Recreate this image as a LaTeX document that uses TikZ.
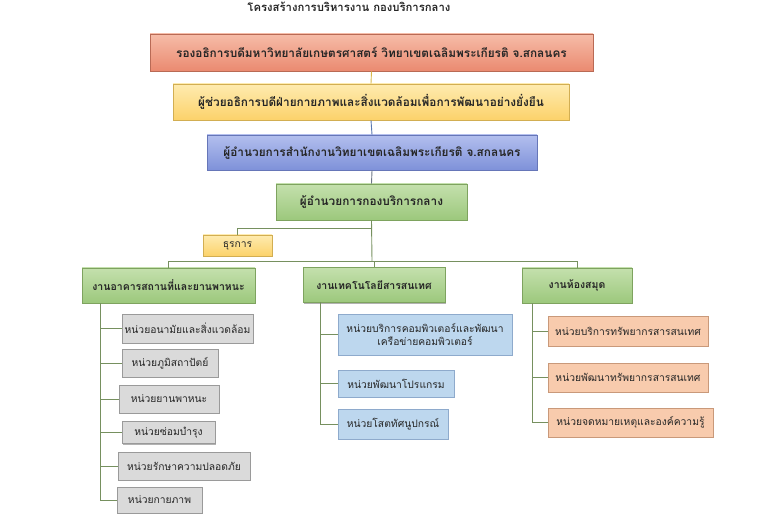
\documentclass[tikz,border=0pt]{standalone}
\usepackage{fontspec}
\setmainfont[Script=Thai]{Loma}
\usetikzlibrary{shadows}
\definecolor{txt}{HTML}{262626}
\definecolor{redA}{HTML}{F6BCA8}
\definecolor{redB}{HTML}{EA8A70}
\definecolor{redD}{HTML}{B96A55}
\definecolor{yelA}{HTML}{FEEBB0}
\definecolor{yelB}{HTML}{FCD26A}
\definecolor{yelD}{HTML}{D2AE52}
\definecolor{bluA}{HTML}{B3BFEE}
\definecolor{bluB}{HTML}{7E91D9}
\definecolor{bluD}{HTML}{6676B8}
\definecolor{grnA}{HTML}{C4E0AD}
\definecolor{grnB}{HTML}{9CC87C}
\definecolor{grnD}{HTML}{7EA35F}
\definecolor{gryF}{HTML}{DADADA}
\definecolor{gryD}{HTML}{9A9A9A}
\definecolor{lbF}{HTML}{BDD7EE}
\definecolor{lbD}{HTML}{8EAACC}
\definecolor{orF}{HTML}{F8CBAD}
\definecolor{orD}{HTML}{C9997A}
\definecolor{lnGold}{HTML}{D9B84A}
\definecolor{lnBlue}{HTML}{5A78B0}
\definecolor{lnGray}{HTML}{6D7785}
\definecolor{lnGreen}{HTML}{76905F}
\begin{document}
\begin{tikzpicture}[x=1pt,y=-1pt,
  base/.style={draw, rectangle, inner sep=1pt, align=center, text=txt,
    line width=0.8pt,
    drop shadow={shadow xshift=1.3pt, shadow yshift=-1.3pt, fill=black, opacity=.3}},
  topbox/.style={base, font=\fontsize{11.8}{14}\selectfont\bfseries},
  bigbox/.style={base, font=\fontsize{10.5}{13}\selectfont\bfseries},
  redbox/.style={topbox, top color=redA, bottom color=redB, draw=redD},
  yelbox/.style={topbox, top color=yelA, bottom color=yelB, draw=yelD},
  blubox/.style={topbox, top color=bluA, bottom color=bluB, draw=bluD},
  grntop/.style={topbox, top color=grnA, bottom color=grnB, draw=grnD},
  grnbox/.style={bigbox, top color=grnA, bottom color=grnB, draw=grnD},
  smallbox/.style={base, font=\fontsize{10.3}{13.5}\selectfont},
  dhubox/.style={smallbox, top color=yelA, bottom color=yelB, draw=yelD},
  grybox/.style={smallbox, fill=gryF, draw=gryD},
  lbbox/.style={smallbox, fill=lbF, draw=lbD},
  orbox/.style={smallbox, fill=orF, draw=orD},
  conn/.style={line width=0.9pt, draw=lnGreen}
]
\useasboundingbox (0,0) rectangle (772,516);

\node[font=\fontsize{11.3}{13}\selectfont\bfseries, text=txt] (title) at (349,7) {โครงสร้างการบริหารงาน กองบริการกลาง};

\node[redbox, minimum width=443pt, minimum height=37pt] (n1) at (371.5,52.5) {รองอธิการบดีมหาวิทยาลัยเกษตรศาสตร์ วิทยาเขตเฉลิมพระเกียรติ จ.สกลนคร};
\node[yelbox, minimum width=396pt, minimum height=36pt] (n2) at (371,102) {ผู้ช่วยอธิการบดีฝ่ายกายภาพและสิ่งแวดล้อมเพื่อการพัฒนาอย่างยั่งยืน};
\node[blubox, minimum width=330pt, minimum height=35pt] (n3) at (372,152.5) {ผู้อำนวยการสำนักงานวิทยาเขตเฉลิมพระเกียรติ จ.สกลนคร};
\node[grntop, minimum width=191pt, minimum height=36pt] (n4) at (371.5,202) {ผู้อำนวยการกองบริการกลาง};

\node[dhubox, minimum width=69pt, minimum height=21pt] (dhu) at (237.5,245.5) {ธุรการ};

\node[grnbox, minimum width=173pt, minimum height=35pt] (g1) at (168.5,285.5) {งานอาคารสถานที่และยานพาหนะ};
\node[grnbox, minimum width=142pt, minimum height=35pt] (g2) at (374,285) {งานเทคโนโลยีสารสนเทศ};
\node[grnbox, minimum width=110pt, minimum height=35pt] (g3) at (577,285.5) {งานห้องสมุด};

\node[grybox, minimum width=131pt, minimum height=29pt] (a1) at (187.5,328.5) {หน่วยอนามัยและสิ่งแวดล้อม};
\node[grybox, minimum width=96pt, minimum height=28pt] (a2) at (170,363) {หน่วยภูมิสถาปัตย์};
\node[grybox, minimum width=100pt, minimum height=28pt] (a3) at (169,399) {หน่วยยานพาหนะ};
\node[grybox, minimum width=93pt, minimum height=22pt] (a4) at (168.5,432.5) {หน่วยซ่อมบำรุง};
\node[grybox, minimum width=132pt, minimum height=28pt] (a5) at (184,466) {หน่วยรักษาความปลอดภัย};
\node[grybox, minimum width=85pt, minimum height=26pt] (a6) at (159.5,500) {หน่วยกายภาพ};

\node[lbbox, minimum width=174pt, minimum height=41pt] (b1) at (425,334.5) {หน่วยบริการคอมพิวเตอร์และพัฒนา\\เครือข่ายคอมพิวเตอร์};
\node[lbbox, minimum width=116pt, minimum height=27pt] (b2) at (396,383.5) {หน่วยพัฒนาโปรแกรม};
\node[lbbox, minimum width=110pt, minimum height=30pt] (b3) at (393,424) {หน่วยโสตทัศนูปกรณ์};

\node[orbox, minimum width=160pt, minimum height=30pt] (c1) at (628,331) {หน่วยบริการทรัพยากรสารสนเทศ};
\node[orbox, minimum width=160pt, minimum height=29pt] (c2) at (628,377.5) {หน่วยพัฒนาทรัพยากรสารสนเทศ};
\node[orbox, minimum width=165pt, minimum height=29pt] (c3) at (630.5,422.5) {หน่วยจดหมายเหตุและองค์ความรู้};

% junction coordinates
\coordinate (jd) at (372,228);
\coordinate (jm) at (372,261);
\coordinate (lt) at (100,303);
\coordinate (mt) at (320,302);
\coordinate (rt) at (532,303);

\draw[line width=0.9pt, draw=lnGold] (n1.south) -- (n2.north);
\draw[line width=0.9pt, draw=lnBlue] (n2.south) -- (n3.north);
\draw[line width=0.9pt, draw=lnGray] (n3.south) -- (n4.north);
\draw[conn] (n4.south) -- (jm);
\draw[conn] (jd) -| (dhu.north);
\draw[conn] (jm) -| (g1.north);
\draw[conn] (jm) -| (g2.north);
\draw[conn] (jm) -| (g3.north);

\foreach \k in {a1,a2,a3,a4,a5,a6} {\draw[conn] (lt) |- (\k.west);}
\foreach \k in {b1,b2,b3} {\draw[conn] (mt) |- (\k.west);}
\foreach \k in {c1,c2,c3} {\draw[conn] (rt) |- (\k.west);}
\end{tikzpicture}
\end{document}
